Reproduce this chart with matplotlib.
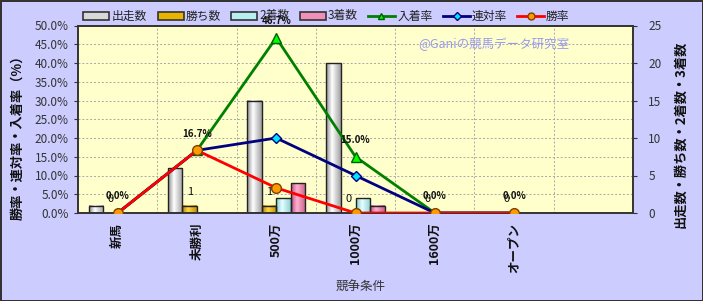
import matplotlib
matplotlib.use("Agg")
import matplotlib.pyplot as plt
import numpy as np
from matplotlib.lines import Line2D
from matplotlib.patches import Rectangle
from matplotlib.colors import LinearSegmentedColormap

plt.rcParams['font.family'] = ['Noto Sans CJK JP', 'DejaVu Sans']

categories = ["新馬", "未勝利", "500万", "1000万", "1600万", "オープン", ""]
runs = [1, 6, 15, 20, 0, 0, 0]
wins = [0, 1, 1, 0, 0, 0, 0]
seconds = [0, 0, 2, 2, 0, 0, 0]
thirds = [0, 0, 4, 1, 0, 0, 0]
place_rate = [0.0, 16.7, 46.7, 15.0, 0.0, 0.0]
quinella_rate = [0.0, 16.7, 20.0, 10.0, 0.0, 0.0]
win_rate = [0.0, 16.7, 6.7, 0.0, 0.0, 0.0]

W, H = 703, 301
fig = plt.figure(figsize=(W / 100, H / 100), dpi=100)
fig.patch.set_facecolor('#CCCCFF')
fig.patch.set_edgecolor('#333333')
fig.patch.set_linewidth(2)

pos = [78 / W, 1 - 213 / H, (633 - 78) / W, (213 - 25.5) / H]
ax2 = fig.add_axes(pos)            # counts (right axis, bars)
ax = fig.add_axes(pos, sharex=ax2)  # rates (left axis, lines)
ax.set_zorder(ax2.get_zorder() + 1)
ax.patch.set_visible(False)
ax2.set_facecolor('#FFFFCC')

x = np.arange(len(categories))
w = 0.183

# grid
for k in range(1, 10):
    ax2.axhline(k * 2.5, color='#A8A8A8', lw=0.7, ls=(0, (2, 2)), zorder=0)
for k in range(len(categories) - 1):
    ax2.axvline(k + 0.5, color='#A8A8A8', lw=0.7, ls=(0, (2, 2)), zorder=0)

bar_specs = [
    (runs, ('#8C8C8C', '#FFFFFF', '#A0A0A0'), '出走数'),
    (wins, ('#B08000', '#FFD84A', '#C09000'), '勝ち数'),
    (seconds, ('#7CC8C8', '#E8FFFF', '#8CD0D0'), '2着数'),
    (thirds, ('#C05080', '#FFB0D0', '#C86088'), '3着数'),
]
grad = np.linspace(0, 1, 64).reshape(1, -1)
for j, (vals, cols, lab) in enumerate(bar_specs):
    cmap = LinearSegmentedColormap.from_list(lab, [(0, cols[0]), (0.4, cols[1]), (1, cols[2])])
    for i, v in enumerate(vals):
        if v <= 0:
            continue
        x0 = x[i] + (j - 2) * w
        ax2.imshow(grad, cmap=cmap, aspect='auto', extent=[x0, x0 + w, 0, v],
                   zorder=2, interpolation='bilinear')
        ax2.add_patch(Rectangle((x0, 0), w, v, facecolor='none',
                                edgecolor='#222222', lw=1.0, zorder=3))

ax2.set_xlim(-0.5, len(categories) - 0.5)
ax2.set_ylim(0, 25)

# win count labels
for i in range(6):
    ax2.annotate(str(wins[i]), (x[i] - 0.5 * w, wins[i]), xytext=(0, 10),
                 textcoords='offset points', ha='center', va='center',
                 fontsize=8, color='#111111', zorder=5)

ax2.yaxis.tick_right()
ax2.yaxis.set_label_position('right')
ax2.set_yticks(range(0, 26, 5))
ax2.tick_params(axis='y', labelsize=8.5, colors='#333333', length=3, pad=8)
ax2.set_ylabel('出走数・勝ち数・2着数・3着数', fontsize=9.5, fontweight='bold',
               color='#111111')
ax2.yaxis.set_label_coords(1.072, 0.42)

xs = x[:6]
ax.plot(xs, place_rate, color='#008000', lw=2, marker='^', ms=7,
        mfc='#00FF00', mec='#006000', zorder=3)
ax.plot(xs, quinella_rate, color='#000080', lw=2, marker='D', ms=5,
        mfc='#00E5FF', mec='#000080', zorder=4)
ax.plot(xs, win_rate, color='#FF0000', lw=2, marker='o', ms=7,
        mfc='#FF9900', mec='#804000', zorder=5)
for i in range(6):
    ax.annotate(f"{place_rate[i]:.1f}%", (xs[i], place_rate[i]), xytext=(0, 12),
                textcoords='offset points', ha='center', va='center',
                fontsize=7, fontweight='bold', color='#111111', zorder=6)

ax.set_ylim(0, 50)
ax.set_yticks(np.arange(0, 51, 5))
ax.set_yticklabels([f"{v:.1f}%" for v in np.arange(0, 51, 5)])
ax.tick_params(axis='y', labelsize=8.5, colors='#333333', length=3)
ax.set_ylabel('勝率・連対率・入着率（%）', fontsize=9.5, fontweight='bold',
              color='#111111')
ax.yaxis.set_label_coords(-0.097, 0.42)
ax.set_xticks(x)
ax.set_xticklabels(categories, rotation=90, fontsize=9, fontweight='bold',
                   color='#111111')
ax.tick_params(axis='x', length=0, pad=7)
ax2.tick_params(axis='x', labelbottom=False, length=0)
ax.set_xlabel('競争条件', fontsize=9, color='#333333')
ax.xaxis.set_label_coords(0.51, -0.36)

for a in (ax, ax2):
    for s in a.spines.values():
        s.set_color('#333333')
        s.set_linewidth(1.2)

ax.text(0.75, 0.9, '@Ganiの競馬データ研究室', transform=ax.transAxes,
        fontsize=9, color='#9999EE', ha='center', va='center', zorder=1)

# manual legend (pixel positions)
def fx(px):
    return px / W

def fy(py):
    return 1 - py / H

ly = 16
patch_items = [(83, 112, '#D8D8D8', '出走数'), (158, 186, '#E8B400', '勝ち数'),
               (231, 259, '#B8F0F0', '2着数'), (300, 328, '#F090B8', '3着数')]
for px, tx, col, lab in patch_items:
    fig.add_artist(Rectangle((fx(px), fy(ly + 3.5)), 26 / W, 7 / H,
                             transform=fig.transFigure, facecolor=col,
                             edgecolor='#333333', lw=1.2))
    fig.text(fx(tx), fy(ly), lab, fontsize=8.5, color='#222222', ha='left', va='center')

line_items = [(368, 398, '#008000', '^', '#00FF00', '#006000', '入着率'),
              (443, 472, '#000080', 'D', '#00E5FF', '#000080', '連対率'),
              (517, 546, '#FF0000', 'o', '#FF9900', '#804000', '勝率')]
for px, tx, col, mk, mfc, mec, lab in line_items:
    fig.add_artist(Line2D([fx(px), fx(px + 27)], [fy(ly), fy(ly)],
                          transform=fig.transFigure, color=col, lw=2))
    fig.add_artist(Line2D([fx(px + 13.5)], [fy(ly)], transform=fig.transFigure,
                          marker=mk, ms=5 if mk != 'D' else 4, mfc=mfc, mec=mec, lw=0))
    fig.text(fx(tx), fy(ly), lab, fontsize=8.5, color='#222222', ha='left', va='center')

fig.savefig('out.png', dpi=100, facecolor=fig.get_facecolor(), edgecolor=fig.get_edgecolor())
